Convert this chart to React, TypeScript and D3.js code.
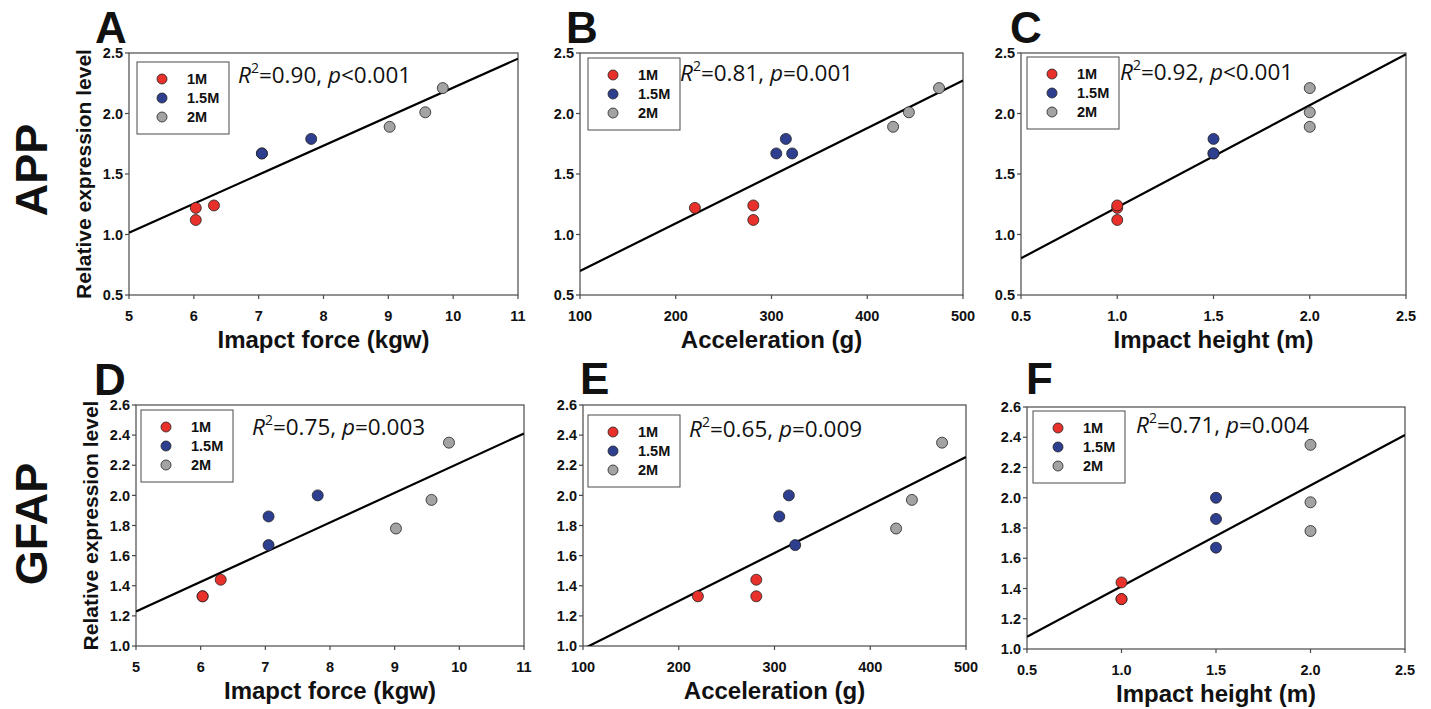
import React from "react";
import * as d3 from "d3";

// ---------- data ----------
const groupNames = ["1M", "1.5M", "2M"];
const groupColors = ["#e8312b", "#2f3f8f", "#a3a3a3"];
const subjectGroup = ["1M", "1M", "1M", "1.5M", "1.5M", "1.5M", "2M", "2M", "2M"];
const impactForce = [6.03, 6.03, 6.31, 7.05, 7.81, 7.05, 9.02, 9.57, 9.84];
const acceleration = [220, 281, 281, 305, 315, 321.6, 427, 443.5, 475];
const impactHeight = [1.0, 1.0, 1.0, 1.5, 1.5, 1.5, 2.0, 2.0, 2.0];
const appLevel = [1.22, 1.12, 1.24, 1.67, 1.79, 1.67, 1.89, 2.01, 2.21];
const gfapLevel = [1.33, 1.33, 1.44, 1.86, 2.0, 1.67, 1.78, 1.97, 2.35];

const forceTicks = [5, 6, 7, 8, 9, 10, 11];
const accelTicks = [100, 200, 300, 400, 500];
const heightTicks = [0.5, 1.0, 1.5, 2.0, 2.5];
const appTicks = [0.5, 1.0, 1.5, 2.0, 2.5];
const gfapTicks = [1.0, 1.2, 1.4, 1.6, 1.8, 2.0, 2.2, 2.4, 2.6];

const panelLetters = ["A", "B", "C", "D", "E", "F"];
const rSquared = ["0.90", "0.81", "0.92", "0.75", "0.65", "0.71"];
const pValues = ["<0.001", "=0.001", "<0.001", "=0.003", "=0.009", "=0.004"];
const xAxisTitles = ["Imapct force (kgw)", "Acceleration (g)", "Impact height (m)"];
const rowTitles = ["APP", "GFAP"];
const yAxisTitle = "Relative expression level";

// ---------- layout ----------
const xSeries = [impactForce, acceleration, impactHeight];
const xTickSets = [forceTicks, accelTicks, heightTicks];
const xFormats = [d3.format("d"), d3.format("d"), d3.format(".1f")];
const ySeries = [appLevel, gfapLevel];
const yTickSets = [appTicks, gfapTicks];

const plotRects = [
  { l: 129, r: 518, t: 53, b: 295 },
  { l: 580, r: 963, t: 53, b: 295 },
  { l: 1021, r: 1406, t: 53, b: 295 },
  { l: 136, r: 524, t: 405, b: 646 },
  { l: 583, r: 966, t: 405, b: 646 },
  { l: 1027, r: 1405, t: 407, b: 649 },
];
const letterPos = [
  [95, 43], [566, 43], [1010, 43],
  [94, 395], [580, 394], [1026, 394],
];
const legendOffset = [
  [8, 9], [8, 5], [6, 4], [5, 5], [5, 10], [6, 4],
];
const statOffset = [
  [109, 30], [100, 28], [99, 27], [116, 30], [106, 32], [109, 26],
];

const AXIS = "#4a4a4a";
const FONT = "'Liberation Sans', Arial, sans-serif";
const STAT_FONT = "'Open Sans', 'Noto Sans', sans-serif";

function regression(xs: number[], ys: number[]) {
  const mx = d3.mean(xs) as number;
  const my = d3.mean(ys) as number;
  let sxy = 0, sxx = 0;
  xs.forEach((v, i) => {
    sxy += (v - mx) * (ys[i] - my);
    sxx += (v - mx) * (v - mx);
  });
  const slope = sxy / sxx;
  return (v: number) => my + slope * (v - mx);
}

function Panel({ idx }: { idx: number }) {
  const row = Math.floor(idx / 3);
  const col = idx % 3;
  const rect = plotRects[idx];
  const xs = xSeries[col];
  const ys = ySeries[row];
  const xt = xTickSets[col];
  const yt = yTickSets[row];
  const x = d3.scaleLinear().domain([xt[0], xt[xt.length - 1]]).range([rect.l, rect.r]);
  const y = d3.scaleLinear().domain([yt[0], yt[yt.length - 1]]).range([rect.b, rect.t]);
  const fit = regression(xs, ys);
  const dom = x.domain();
  const lineGen = d3.line<number>().x((d) => x(d)).y((d) => y(fit(d)));
  const clipId = `clip-${idx}`;
  const fmtY = d3.format(".1f");
  const [lx, ly] = legendOffset[idx];
  const [sx, sy] = statOffset[idx];
  const legX = rect.l + lx;
  const legY = rect.t + ly;
  const cx = (rect.l + rect.r) / 2;

  return (
    <g>
      <defs>
        <clipPath id={clipId}>
          <rect x={rect.l} y={rect.t} width={rect.r - rect.l} height={rect.b - rect.t} />
        </clipPath>
      </defs>
      {/* panel letter */}
      <text x={letterPos[idx][0]} y={letterPos[idx][1]} fontFamily={FONT} fontWeight="bold" fontSize={44} fill="#111">
        {panelLetters[idx]}
      </text>
      {/* frame */}
      <rect x={rect.l} y={rect.t} width={rect.r - rect.l} height={rect.b - rect.t} fill="none" stroke={AXIS} strokeWidth={1.2} />
      {/* x ticks */}
      {xt.map((v) => (
        <g key={"xt" + v}>
          <line x1={x(v)} x2={x(v)} y1={rect.b} y2={rect.b + 4} stroke={AXIS} strokeWidth={1.2} />
          <text x={x(v)} y={rect.b + 26} textAnchor="middle" fontFamily={FONT} fontWeight="bold" fontSize={14.5} fill="#111">
            {xFormats[col](v)}
          </text>
        </g>
      ))}
      {/* y ticks */}
      {yt.map((v) => (
        <g key={"yt" + v}>
          <line x1={rect.l - 4} x2={rect.l} y1={y(v)} y2={y(v)} stroke={AXIS} strokeWidth={1.2} />
          <text x={rect.l - 6} y={y(v)} dy="0.36em" textAnchor="end" fontFamily={FONT} fontWeight="bold" fontSize={14.5} fill="#111">
            {fmtY(v)}
          </text>
        </g>
      ))}
      {/* x axis title */}
      <text x={cx} y={rect.b + 53} textAnchor="middle" fontFamily={FONT} fontWeight="bold" fontSize={24} fill="#111">
        {xAxisTitles[col]}
      </text>
      {/* y axis title, first column only */}
      {col === 0 && (
        <text
          transform={`translate(${rect.l - 46},${(rect.t + rect.b) / 2}) rotate(-90)`}
          textAnchor="middle"
          dy="0.36em"
          fontFamily={FONT}
          fontWeight="bold"
          fontSize={21}
          fill="#111"
        >
          {yAxisTitle}
        </text>
      )}
      {/* regression line */}
      <path d={lineGen([dom[0], dom[1]]) || ""} stroke="#000" strokeWidth={2.2} fill="none" clipPath={`url(#${clipId})`} />
      {/* points */}
      {xs.map((v, i) => (
        <circle
          key={"p" + i}
          cx={x(v)}
          cy={y(ys[i])}
          r={5.5}
          fill={groupColors[groupNames.indexOf(subjectGroup[i])]}
          stroke="#222"
          strokeWidth={0.8}
        />
      ))}
      {/* legend */}
      <rect x={legX} y={legY} width={92} height={72} fill="#fff" stroke={AXIS} strokeWidth={1} />
      {groupNames.map((g, i) => (
        <g key={"lg" + g}>
          <circle cx={legX + 25} cy={legY + 17 + i * 19} r={5} fill={groupColors[i]} stroke="#222" strokeWidth={0.8} />
          <text x={legX + 50} y={legY + 17 + i * 19} dy="0.36em" fontFamily={FONT} fontWeight="bold" fontSize={14.5} fill="#111">
            {g}
          </text>
        </g>
      ))}
      {/* statistic */}
      <text x={rect.l + sx} y={rect.t + sy} fontFamily={STAT_FONT} fontSize={22.5} fill="#111">
        <tspan fontStyle="italic">R</tspan>
        <tspan fontSize={14} dy={-10}>2</tspan>
        <tspan dy={10}>{"=" + rSquared[idx] + ", "}</tspan>
        <tspan fontStyle="italic">p</tspan>
        <tspan>{pValues[idx]}</tspan>
      </text>
    </g>
  );
}

export default function App() {
  return (
    <svg
      width={1431}
      height={709}
      viewBox="0 0 1431 709"
      style={{ position: "absolute", left: 0, top: 0, background: "#fff" }}
    >
      <rect x={0} y={0} width={1431} height={709} fill="#fff" />
      {rowTitles.map((t, i) => (
        <text
          key={t}
          transform={`translate(${31},${i === 0 ? 170 : 524}) rotate(-90)`}
          textAnchor="middle"
          dy="0.36em"
          fontFamily={FONT}
          fontWeight="bold"
          fontSize={45}
          fill="#111"
        >
          {t}
        </text>
      ))}
      {plotRects.map((_, i) => (
        <Panel key={i} idx={i} />
      ))}
    </svg>
  );
}
